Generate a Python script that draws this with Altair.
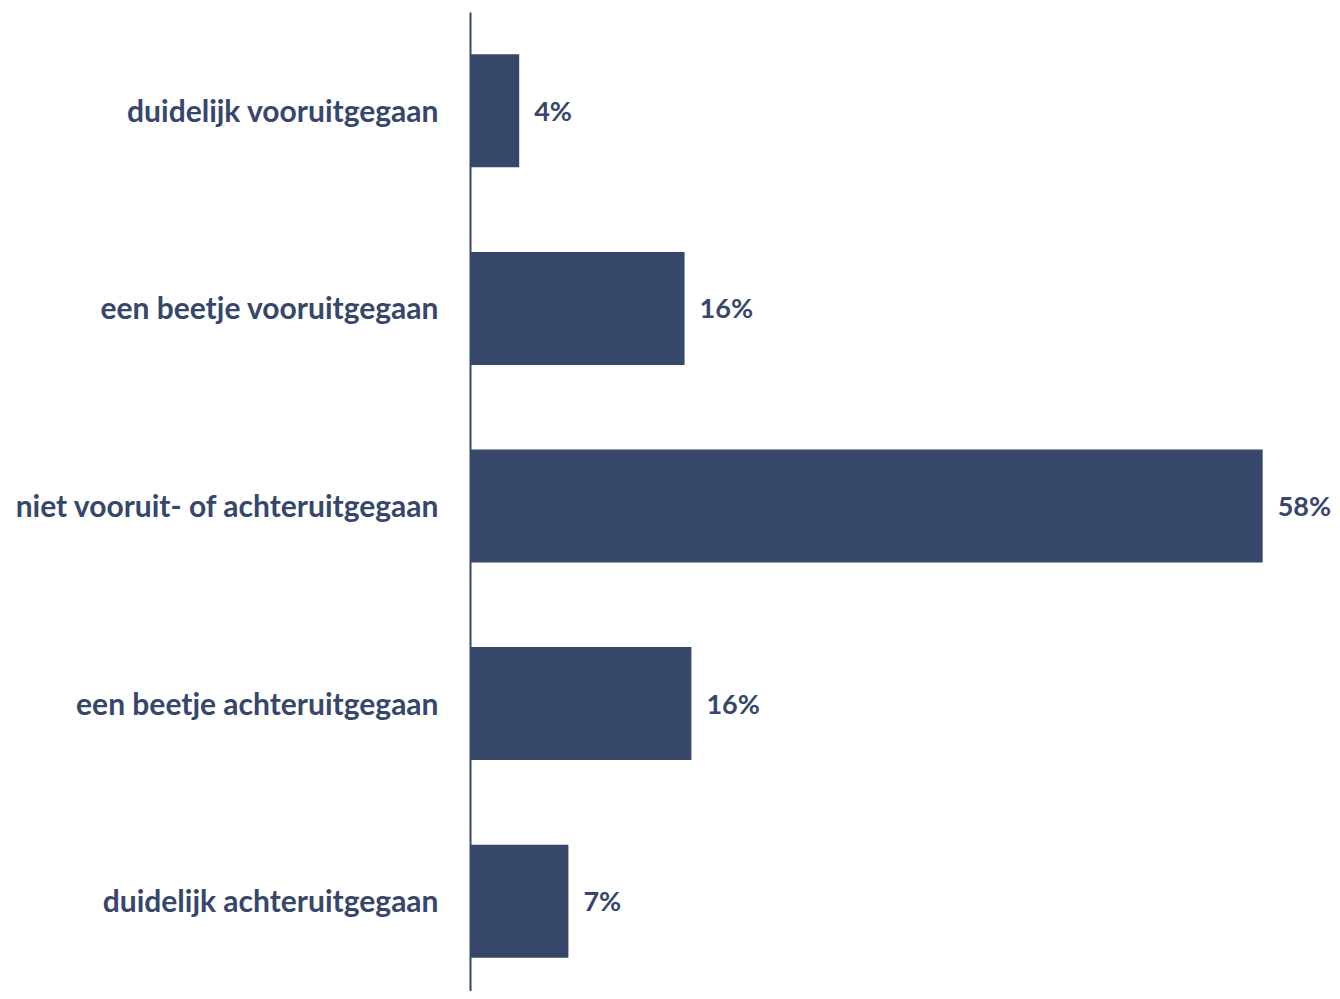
import altair as alt
import pandas as pd

categories = [
    "duidelijk vooruitgegaan",
    "een beetje vooruitgegaan",
    "niet vooruit- of achteruitgegaan",
    "een beetje achteruitgegaan",
    "duidelijk achteruitgegaan",
]
values = [3.6, 15.7, 58.0, 16.2, 7.2]
labels = ["4%", "16%", "58%", "16%", "7%"]

COLOR = "#37476A"
FONT = "Lato"

df = pd.DataFrame({"cat": categories, "val": values, "lab": labels})

y_enc = alt.Y(
    "cat:N",
    sort=categories,
    scale=alt.Scale(paddingInner=0.428, paddingOuter=0.214),
    axis=alt.Axis(
        title=None,
        ticks=False,
        labelPadding=32,
        labelOffset=2,
        labelFont=FONT,
        labelFontSize=30,
        labelFontWeight="bold",
        labelColor=COLOR,
        labelLimit=600,
        domainColor=COLOR,
        domainWidth=2,
        grid=False,
    ),
)
x_enc = alt.X("val:Q", scale=alt.Scale(domain=[0, 60]), axis=None)

bars = alt.Chart(df).mark_bar(color=COLOR).encode(x=x_enc, y=y_enc)
text = alt.Chart(df).mark_text(
    align="left", baseline="middle", dx=15, dy=2, font=FONT, fontSize=27,
    fontWeight="bold", color=COLOR,
).encode(x=x_enc, y=alt.Y("cat:N", sort=categories), text="lab:N")

chart = (
    (bars + text)
    .properties(
        width=820,
        height=988,
        background="white",
        autosize=alt.AutoSizeParams(type="none"),
        padding={"left": 462, "top": 4, "right": 42, "bottom": -9},
    )
    .configure_view(stroke="transparent", strokeWidth=0)
)

chart.save("out.html", embed_options={"renderer": "svg", "actions": False})
